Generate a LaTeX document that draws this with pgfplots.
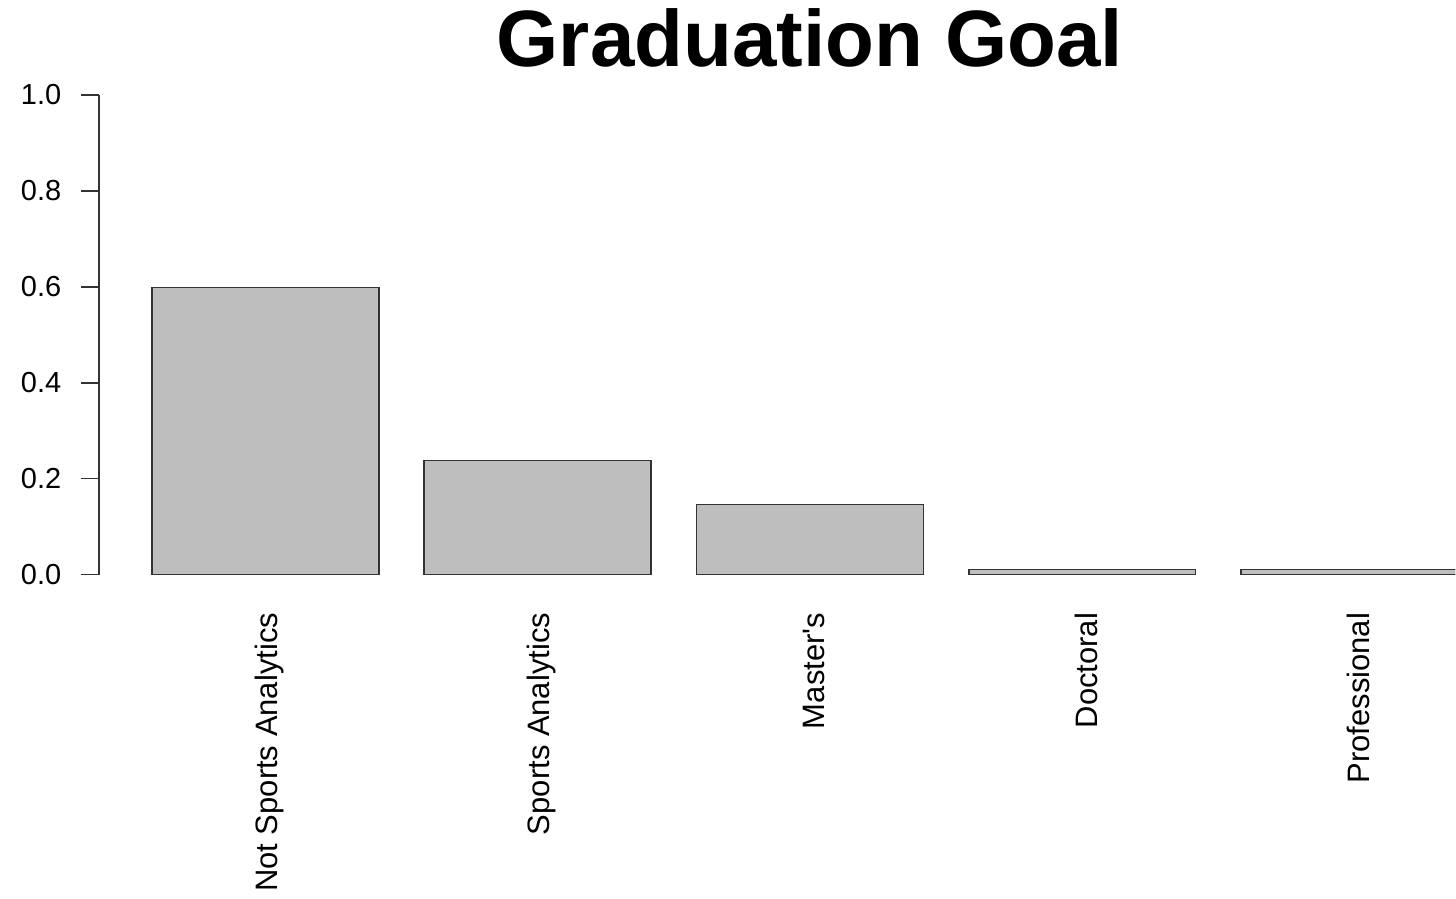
\documentclass[border=0pt]{standalone}
\usepackage{pgfplots}
\pgfplotsset{compat=1.18}
\usepackage{fontspec}
\setmainfont{Liberation Sans}
\newfontfamily\rawfont{Liberation Sans}
\definecolor{bargray}{HTML}{BEBEBE}
\definecolor{edge}{HTML}{333333}
\begin{document}
\begin{tikzpicture}
\begin{axis}[
  scale only axis,
  width=678.4pt, height=259.2pt,
  xmin=-0.032, xmax=5.944,
  ymin=-0.04, ymax=1.04,
  clip mode=individual,
  axis x line*=bottom,
  axis y line*=left,
  x axis line style={draw=none},
  y axis line style={draw=none},
  ytick={0,0.2,0.4,0.6,0.8,1.0},
  yticklabel style={/pgf/number format/fixed, /pgf/number format/fixed zerofill, /pgf/number format/precision=1, /pgf/number format/assume math mode=true, font=\fontsize{14.5}{17}\selectfont, xshift=-6.5pt},
  tick align=outside,
  major tick length=9pt,
  ytick style={line width=0.75pt, color=edge},
  xtick style={draw=none},
  xtick={0.7,1.9,3.1,4.3,5.5},
  xticklabels={Not Sports Analytics, Sports Analytics, Master's, Doctoral, Professional},
  xticklabel style={rotate=90, anchor=east, font=\rawfont\fontsize{15.5}{18}\selectfont, xshift=3pt, yshift=-2pt},
  ybar, bar width=1, bar shift=0,
]
\addplot[fill=bargray, draw=edge, line width=0.75pt] coordinates {
  (0.7,0.599) (1.9,0.2375) (3.1,0.146) (4.3,0.0104) (5.5,0.0104)
};
\draw[line width=0.75pt, color=edge] (axis cs:-0.032,0) -- (axis cs:-0.032,1);
\node[anchor=base, font=\fontsize{40}{48}\selectfont\bfseries] at (axis cs:3.1,1.06) {Graduation Goal};
\path ([xshift=-49.65pt,yshift=-150.9pt]rel axis cs:0,0) rectangle ([yshift=37.9pt]rel axis cs:1,1);
\end{axis}
\end{tikzpicture}
\end{document}
